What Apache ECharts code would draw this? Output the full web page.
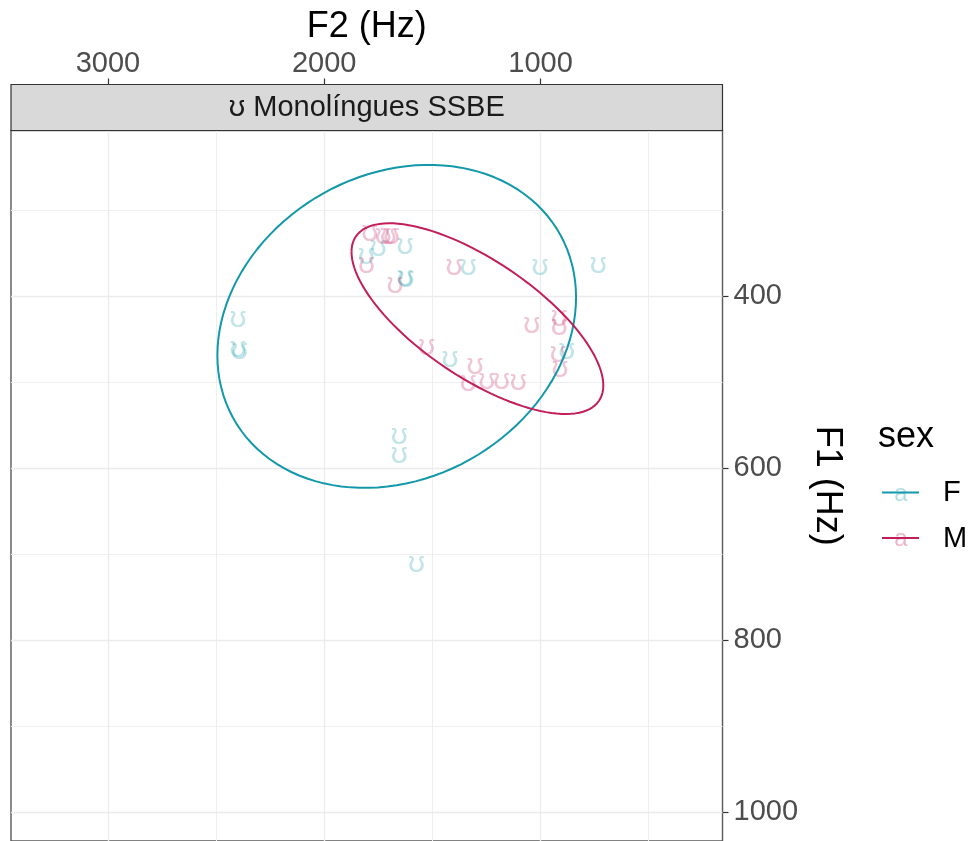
<!DOCTYPE html>
<html>
<head>
<meta charset="utf-8">
<script src="https://cdn.jsdelivr.net/npm/echarts@6/dist/echarts.min.js"></script>
<style>
html, body { margin: 0; padding: 0; background: #ffffff; }
#chart { width: 976px; height: 841px; }
</style>
</head>
<body>
<div id="chart"></div>
<script>
// Vowel token drawn at every measurement
const vowelSymbol = 'ʊ';
const panelTitle = 'ʊ Monolíngues SSBE';

// Axis breaks (Hz)
const f2Breaks = [1000, 2000, 3000];
const f2MinorBreaks = [500, 1500, 2500];
const f1Breaks = [400, 600, 800, 1000];
const f1MinorBreaks = [300, 500, 700, 900];
const f2Limits = [159, 3448];
const f1Limits = [207, 1034];

// Speaker groups
const sexLevels = ['F', 'M'];

// Female tokens: F2 and F1 (Hz)
const femaleF2 = [2398, 2398, 2392, 1653, 1653, 1573, 1419, 879, 1750, 1627, 1806, 1627, 1622, 1334, 1003, 733];
const femaleF1 = [426, 461, 463, 562, 584, 711, 473, 463, 343, 341, 353, 378, 380, 365, 365, 363];

// Male tokens: F2 and F1 (Hz)
const maleF2 = [1789, 1727, 1704, 1689, 1804, 1673, 1400, 1041, 913, 913, 1527, 1303, 1334, 1249, 1180, 1103, 918, 910];
const maleF1 = [326, 330, 330, 330, 363, 387, 365, 433, 425, 435, 459, 481, 501, 498, 498, 500, 467, 484];

// 95% ellipse per group (order follows sexLevels):
// centre, half-extent along each formant, and F2–F1 correlation
const ellipseCenterF2 = [1665, 1292];
const ellipseCenterF1 = [435, 426];
const ellipseHalfF2 = [829, 582];
const ellipseHalfF1 = [188, 111];
const ellipseCorr = [0.18, -0.70];

const lineColors = { F: '#1398A9', M: '#C21E5A' };
const tokenColors = { F: 'rgba(19,152,169,0.33)', M: 'rgba(194,30,90,0.33)' };

// Outline of a covariance ellipse (Cholesky form, as ggplot2::stat_ellipse draws it)
function ellipseOutline(g, segments = 120) {
  const cx = ellipseCenterF2[g], cy = ellipseCenterF1[g];
  const hx = ellipseHalfF2[g], hy = ellipseHalfF1[g], rho = ellipseCorr[g];
  const k = Math.sqrt(1 - rho * rho);
  const pts = [];
  for (let i = 0; i <= segments; i++) {
    const t = i * 2 * Math.PI / segments;
    const c = Math.cos(t), s = Math.sin(t);
    pts.push([cx + hx * c, cy + hy * (rho * c + k * s)]);
  }
  return pts;
}

const zip = (a, b) => a.map((v, i) => [v, b[i]]);

const gridLines = [].concat(
  f2MinorBreaks.map(v => ({ xAxis: v, lineStyle: { color: '#EFEFEF', width: 1, type: 'solid' } })),
  f1MinorBreaks.map(v => ({ yAxis: v, lineStyle: { color: '#EFEFEF', width: 1, type: 'solid' } })),
  f2Breaks.map(v => ({ xAxis: v, lineStyle: { color: '#EBEBEB', width: 1.4, type: 'solid' } })),
  f1Breaks.map(v => ({ yAxis: v, lineStyle: { color: '#EBEBEB', width: 1.4, type: 'solid' } }))
);

const FONT = '"Liberation Sans", Arial, Helvetica, sans-serif';
const GRID = { left: 11, top: 130.5, right: 253.5, bottom: -4 };

function tokenSeries(name, xs, ys) {
  return {
    name: name,
    type: 'scatter',
    data: zip(xs, ys),
    symbol: 'circle',
    symbolSize: 1,
    itemStyle: { color: 'rgba(0,0,0,0)' },
    z: 3,
    silent: true,
    label: {
      show: true,
      position: 'inside',
      formatter: vowelSymbol,
      fontSize: 30,
      fontFamily: '"Liberation Sans", "DejaVu Sans", sans-serif',
      color: tokenColors[name]
    }
  };
}

function ellipseSeries(g) {
  const key = sexLevels[g];
  return {
    name: key + ' ellipse',
    type: 'line',
    data: ellipseOutline(g),
    showSymbol: false,
    symbol: 'none',
    silent: true,
    z: 4,
    lineStyle: { color: lineColors[key], width: 2 }
  };
}

const chart = echarts.init(document.getElementById('chart'), null, { renderer: 'canvas' });

chart.setOption({
  animation: false,
  backgroundColor: '#ffffff',
  grid: Object.assign({ show: true, borderColor: '#595959', borderWidth: 1.4, backgroundColor: 'rgba(0,0,0,0)' }, GRID),
  xAxis: {
    type: 'value',
    position: 'top',
    offset: 46,
    inverse: true,
    min: f2Limits[0],
    max: f2Limits[1],
    name: 'F2 (Hz)',
    nameLocation: 'middle',
    nameGap: 31,
    nameTextStyle: { fontSize: 36, color: '#000000', fontFamily: FONT },
    axisLine: { show: false },
    axisTick: { show: true, length: 6, lineStyle: { color: '#333333', width: 1.2 }, customValues: f2Breaks },
    axisLabel: { show: true, margin: 6, fontSize: 29, color: '#4D4D4D', fontFamily: FONT, customValues: f2Breaks, formatter: v => String(v) },
    splitLine: { show: false }
  },
  yAxis: {
    type: 'value',
    position: 'right',
    inverse: true,
    min: f1Limits[0],
    max: f1Limits[1],
    name: 'F1 (Hz)',
    nameLocation: 'middle',
    nameRotate: -90,
    nameGap: 73,
    nameTextStyle: { fontSize: 36, color: '#000000', fontFamily: FONT },
    axisLine: { show: false },
    axisTick: { show: true, length: 6, lineStyle: { color: '#333333', width: 1.2 }, customValues: f1Breaks },
    axisLabel: { show: true, margin: 11, fontSize: 29, color: '#4D4D4D', fontFamily: FONT, customValues: f1Breaks, formatter: v => String(v) },
    splitLine: { show: false }
  },
  series: [
    {
      name: 'grid',
      type: 'scatter',
      data: [],
      silent: true,
      markLine: {
        silent: true,
        z: 1,
        symbol: ['none', 'none'],
        label: { show: false },
        emphasis: { disabled: true },
        animation: false,
        data: gridLines
      }
    },
    tokenSeries('F', femaleF2, femaleF1),
    tokenSeries('M', maleF2, maleF1),
    ellipseSeries(0),
    ellipseSeries(1)
  ],
  graphic: [
    // facet strip
    {
      type: 'rect',
      shape: { x: 11, y: 84.5, width: 711.5, height: 46 },
      style: { fill: '#D9D9D9', stroke: '#333333', lineWidth: 1.2 },
      z: 10
    },
    {
      type: 'text',
      x: 366.75, y: 107.5,
      style: { text: panelTitle, fontSize: 29, fontFamily: FONT, fill: '#1A1A1A', align: 'center', verticalAlign: 'middle' },
      z: 11
    },
    // legend
    {
      type: 'text', x: 878, y: 437,
      style: { text: 'sex', fontSize: 36, fontFamily: FONT, fill: '#000000', align: 'left', verticalAlign: 'middle' }
    },
    {
      type: 'line', shape: { x1: 882, y1: 492.5, x2: 919, y2: 492.5 },
      style: { stroke: lineColors.F, lineWidth: 2 }
    },
    {
      type: 'text', x: 901, y: 494,
      style: { text: 'a', fontSize: 24, fontFamily: FONT, fill: tokenColors.F, align: 'center', verticalAlign: 'middle' }
    },
    {
      type: 'text', x: 943, y: 493,
      style: { text: sexLevels[0], fontSize: 29, fontFamily: FONT, fill: '#000000', align: 'left', verticalAlign: 'middle' }
    },
    {
      type: 'line', shape: { x1: 882, y1: 538, x2: 919, y2: 538 },
      style: { stroke: lineColors.M, lineWidth: 2 }
    },
    {
      type: 'text', x: 901, y: 539.5,
      style: { text: 'a', fontSize: 24, fontFamily: FONT, fill: tokenColors.M, align: 'center', verticalAlign: 'middle' }
    },
    {
      type: 'text', x: 943, y: 538.5,
      style: { text: sexLevels[1], fontSize: 29, fontFamily: FONT, fill: '#000000', align: 'left', verticalAlign: 'middle' }
    }
  ]
});
</script>
</body>
</html>
